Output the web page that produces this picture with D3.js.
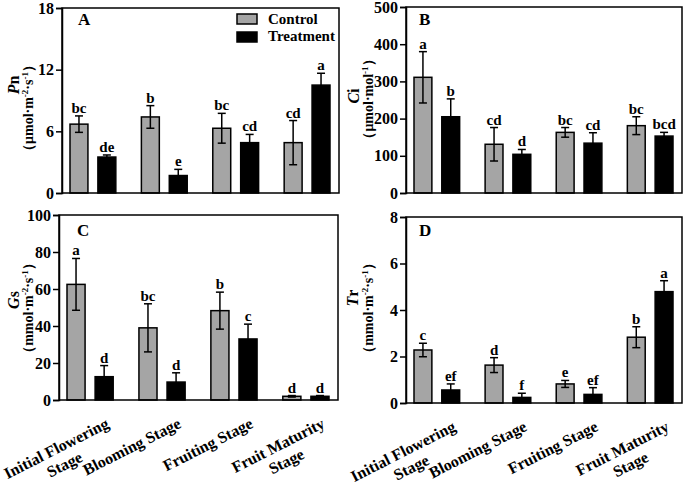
<!DOCTYPE html>
<html><head><meta charset="utf-8">
<script src="https://cdn.jsdelivr.net/npm/d3@7"></script>
<style>
body{margin:0;background:#fff}
text{font-family:"Liberation Serif","Times New Roman",serif;font-weight:bold;fill:#000}
</style>
</head><body><svg id="c" width="685" height="489"></svg>
<script>
// ---------- data ----------
const categories = ["Initial Flowering Stage", "Blooming Stage", "Fruiting Stage", "Fruit Maturity Stage"];
const categoryLines = [["Initial Flowering", "Stage"], ["Blooming Stage"], ["Fruiting Stage"], ["Fruit Maturity", "Stage"]];
const series = ["Control", "Treatment"];

const pnControl = [6.7, 7.4, 6.3, 4.9];
const pnControlErr = [0.8, 1.1, 1.45, 2.15];
const pnTreatment = [3.5, 1.7, 4.9, 10.5];
const pnTreatmentErr = [0.2, 0.6, 0.8, 1.15];
const pnControlLetters = ["bc", "b", "bc", "cd"];
const pnTreatmentLetters = ["de", "e", "cd", "a"];
const pnTicks = [0, 6, 12, 18];

const ciControl = [311, 131, 163, 181];
const ciControlErr = [69, 45, 13, 24];
const ciTreatment = [205, 104, 134, 153];
const ciTreatmentErr = [48, 13, 28, 10];
const ciControlLetters = ["a", "cd", "bc", "bc"];
const ciTreatmentLetters = ["b", "d", "cd", "bcd"];
const ciTicks = [0, 100, 200, 300, 400, 500];

const gsControl = [62.5, 39, 48.3, 2];
const gsControlErr = [14, 13, 10, 0.4];
const gsTreatment = [12.6, 9.7, 33, 2];
const gsTreatmentErr = [6, 5, 8, 0.4];
const gsControlLetters = ["a", "bc", "b", "d"];
const gsTreatmentLetters = ["d", "d", "c", "d"];
const gsTicks = [0, 20, 40, 60, 80, 100];

const trControl = [2.28, 1.63, 0.82, 2.83];
const trControlErr = [0.29, 0.32, 0.15, 0.45];
const trTreatment = [0.56, 0.24, 0.37, 4.79];
const trTreatmentErr = [0.26, 0.18, 0.29, 0.47];
const trControlLetters = ["c", "d", "e", "b"];
const trTreatmentLetters = ["ef", "f", "ef", "a"];
const trTicks = [0, 2, 4, 6, 8];

const colors = {Control: "#a5a5a5", Treatment: "#000000"};

// ---------- drawing ----------
const svg = d3.select("#c");

function drawPanel(cfg) {
  const g = svg.append("g");
  const y = d3.scaleLinear().domain([0, d3.max(cfg.ticks)]).range([cfg.y1, cfg.y0]);
  const x = d3.scaleBand().domain(categories).range([cfg.x0 + 8, cfg.x1 - 9]).paddingInner(0.358).paddingOuter(0);
  const xs = d3.scaleBand().domain(series).range([0, x.bandwidth()]).paddingInner(0.357);

  const rows = [];
  categories.forEach((c, i) => {
    rows.push({cat: c, s: "Control", v: cfg.control[i], e: cfg.controlErr[i], l: cfg.controlLetters[i]});
    rows.push({cat: c, s: "Treatment", v: cfg.treatment[i], e: cfg.treatmentErr[i], l: cfg.treatmentLetters[i]});
  });

  g.selectAll("rect.bar").data(rows).join("rect")
    .attr("x", d => x(d.cat) + xs(d.s))
    .attr("y", d => y(d.v))
    .attr("width", xs.bandwidth())
    .attr("height", d => y(0) - y(d.v))
    .attr("fill", d => colors[d.s])
    .attr("stroke", "#000").attr("stroke-width", 1.5);

  const eb = g.selectAll("g.eb").data(rows).join("g")
    .attr("transform", d => `translate(${x(d.cat) + xs(d.s) + xs.bandwidth() / 2},0)`);
  eb.append("line").attr("y1", d => y(Math.max(0, d.v - d.e))).attr("y2", d => y(d.v + d.e))
    .attr("stroke", "#000").attr("stroke-width", 1.5);
  eb.append("line").attr("x1", -4).attr("x2", 4).attr("y1", d => y(d.v + d.e)).attr("y2", d => y(d.v + d.e))
    .attr("stroke", "#000").attr("stroke-width", 1.5);
  eb.append("line").attr("x1", -4).attr("x2", 4).attr("y1", d => y(Math.max(0, d.v - d.e))).attr("y2", d => y(Math.max(0, d.v - d.e)))
    .attr("stroke", "#000").attr("stroke-width", 1.5);
  eb.append("text").attr("y", d => y(d.v + d.e) - 3).attr("text-anchor", "middle")
    .style("font-size", "15px").text(d => d.l);

  g.append("rect").attr("x", cfg.x0).attr("y", cfg.y0)
    .attr("width", cfg.x1 - cfg.x0).attr("height", cfg.y1 - cfg.y0)
    .attr("fill", "none").attr("stroke", "#000").attr("stroke-width", 1.5);

  const ax = g.append("g").attr("transform", `translate(${cfg.x0},0)`)
    .call(d3.axisLeft(y).tickValues(cfg.ticks).tickSize(6).tickPadding(2).tickFormat(d3.format("d")));
  ax.select(".domain").attr("stroke", "#000").attr("stroke-width", 1.5);
  ax.selectAll(".tick line").attr("stroke", "#000").attr("stroke-width", 1.5);
  ax.selectAll(".tick text").style("font-size", "16px").style("font-family", '"Liberation Serif",serif').style("font-weight", "bold").attr("fill", "#000");

  g.append("text").attr("x", cfg.labelX).attr("y", cfg.labelY).style("font-size", "17px").text(cfg.label);

  const t1 = g.append("text").attr("transform", `translate(${cfg.titleX},${cfg.titleY}) rotate(-90)`)
    .attr("text-anchor", "middle").style("font-size", "16px");
  t1.append("tspan").style("font-style", "italic").text(cfg.title[0]);
  t1.append("tspan").text(cfg.title[1]);

  const t2 = g.append("text").attr("transform", `translate(${cfg.unitX},${cfg.unitY}) rotate(-90)`)
    .attr("text-anchor", "middle").style("font-size", "14px");
  cfg.unit.forEach(p => {
    const ts = t2.append("tspan").text(p.t);
    if (p.sup) ts.style("font-size", "9px").attr("dy", -5);
    if (p.down) ts.attr("dy", 5);
  });

  if (cfg.xlabels) {
    categories.forEach((c, i) => {
      const lines = categoryLines[i];
      const cx = x(c) + x.bandwidth() / 2 + 20;
      const cy = cfg.y1 + 27;
      const lg = g.append("g").attr("transform", `translate(${cx},${cy}) rotate(-27)`);
      const first = lg.append("text").attr("text-anchor", "end").style("font-size", "16px").text(lines[0]);
      const L = first.node().getComputedTextLength();
      for (let k = 1; k < lines.length; k++) {
        lg.append("text").attr("x", -L / 2).attr("y", 18 * k).attr("text-anchor", "middle")
          .style("font-size", "16px").text(lines[k]);
      }
    });
  }
}

const unitArea = [{t: "（μmol·m"}, {t: "-2", sup: true}, {t: "·s", down: true}, {t: "-1", sup: true}, {t: "）", down: true}];
const unitArea2 = [{t: "（mmol·m"}, {t: "-2", sup: true}, {t: "·s", down: true}, {t: "-1", sup: true}, {t: "）", down: true}];
const unitMol = [{t: "（μmol·mol"}, {t: "-1", sup: true}, {t: "）", down: true}];

drawPanel({x0: 62, x1: 339, y0: 8, y1: 193, ticks: pnTicks,
  control: pnControl, controlErr: pnControlErr, treatment: pnTreatment, treatmentErr: pnTreatmentErr,
  controlLetters: pnControlLetters, treatmentLetters: pnTreatmentLetters,
  label: "A", labelX: 78, labelY: 25, title: ["P", "n"], titleX: 19, titleY: 85, unit: unitArea, unitX: 33, unitY: 108});
drawPanel({x0: 406, x1: 682, y0: 7, y1: 193, ticks: ciTicks,
  control: ciControl, controlErr: ciControlErr, treatment: ciTreatment, treatmentErr: ciTreatmentErr,
  controlLetters: ciControlLetters, treatmentLetters: ciTreatmentLetters,
  label: "B", labelX: 419, labelY: 25, title: ["C", "i"], titleX: 359, titleY: 96, unit: unitMol, unitX: 373, unitY: 99});
drawPanel({x0: 59, x1: 338, y0: 215, y1: 400, ticks: gsTicks,
  control: gsControl, controlErr: gsControlErr, treatment: gsTreatment, treatmentErr: gsTreatmentErr,
  controlLetters: gsControlLetters, treatmentLetters: gsTreatmentLetters, xlabels: true,
  label: "C", labelX: 77, labelY: 236, title: ["G", "s"], titleX: 19, titleY: 300, unit: unitArea2, unitX: 33, unitY: 308});
drawPanel({x0: 406, x1: 682, y0: 217, y1: 403, ticks: trTicks,
  control: trControl, controlErr: trControlErr, treatment: trTreatment, treatmentErr: trTreatmentErr,
  controlLetters: trControlLetters, treatmentLetters: trTreatmentLetters, xlabels: true,
  label: "D", labelX: 419, labelY: 236, title: ["T", "r"], titleX: 358, titleY: 298, unit: unitArea2, unitX: 373, unitY: 308});

const leg = svg.append("g");
series.forEach((s, i) => {
  leg.append("rect").attr("x", 237).attr("y", 14 + i * 18).attr("width", 20).attr("height", 10)
    .attr("fill", colors[s]).attr("stroke", "#000").attr("stroke-width", 1.5);
  leg.append("text").attr("x", 268).attr("y", 24 + i * 17).style("font-size", "15px").text(s);
});
</script></body></html>
